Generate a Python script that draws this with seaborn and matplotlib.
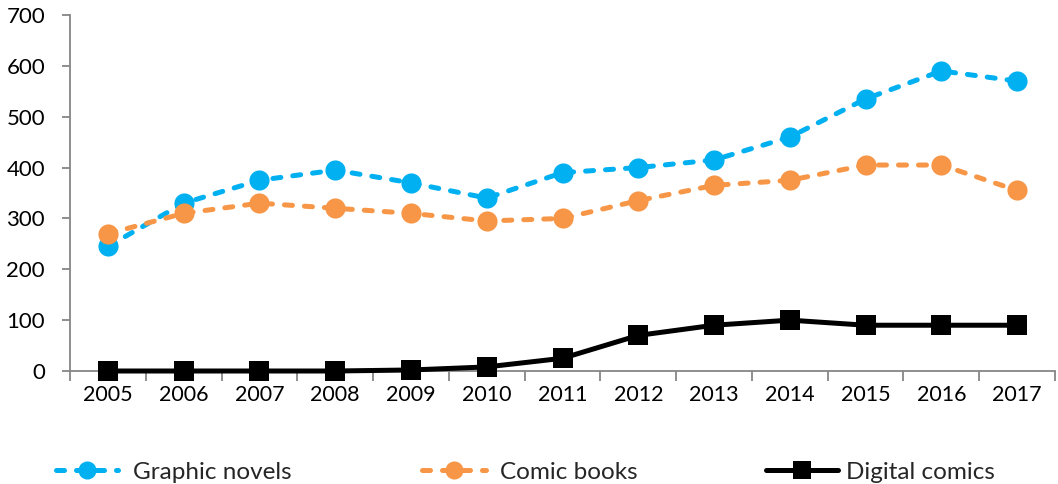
import matplotlib
matplotlib.use("Agg")
import matplotlib.pyplot as plt
from matplotlib.lines import Line2D
from matplotlib.ticker import MultipleLocator, FixedLocator
import pandas as pd
import seaborn as sns

years = [2005, 2006, 2007, 2008, 2009, 2010, 2011, 2012, 2013, 2014, 2015, 2016, 2017]
graphic_novels = [245, 330, 375, 395, 370, 340, 390, 400, 415, 460, 535, 590, 570]
comic_books = [270, 310, 330, 320, 310, 295, 300, 335, 365, 375, 405, 405, 355]
digital_comics = [0, 0, 0, 0, 2, 8, 25, 70, 90, 100, 90, 90, 90]

series_names = ["Graphic novels", "Comic books", "Digital comics"]
colors = {"Graphic novels": "#00B0F0", "Comic books": "#F79646", "Digital comics": "#000000"}
markers = {"Graphic novels": "o", "Comic books": "o", "Digital comics": "s"}
dashes = {"Graphic novels": (1.6, 2.4), "Comic books": (1.6, 2.4), "Digital comics": ""}

df = pd.concat([
    pd.DataFrame({"year": years, "value": vals, "series": name})
    for name, vals in zip(series_names, [graphic_novels, comic_books, digital_comics])
], ignore_index=True)

sns.set_style("white")
plt.rcParams["font.family"] = ["Lato", "DejaVu Sans"]

W, H = 1058, 484
fig = plt.figure(figsize=(W / 100, H / 100), dpi=100)
ax = fig.add_axes([70 / W, (H - 371) / H, (1055 - 70) / W, (371 - 15) / H])

sns.lineplot(data=df, x="year", y="value", hue="series", style="series",
             palette=colors, markers=markers, dashes=dashes, hue_order=series_names,
             style_order=series_names, markersize=14.5, linewidth=3.6,
             markeredgewidth=0, legend=False, ax=ax)
for line in ax.get_lines():
    line.set_dash_capstyle("round")
    line.set_solid_capstyle("round")
    line.set_solid_joinstyle("round")
    line.set_clip_on(False)
    line.set_zorder(5)

grey = "#868686"
ax.set_xlim(2004.5, 2017.5)
ax.set_ylim(0, 700)
ax.yaxis.set_major_locator(MultipleLocator(100))
ax.xaxis.set_major_locator(FixedLocator(years))
ax.xaxis.set_minor_locator(FixedLocator([y + 0.5 for y in [2004] + years]))
ax.set_xlabel("")
ax.set_ylabel("")
for side in ["top", "right"]:
    ax.spines[side].set_visible(False)
for side in ["left", "bottom"]:
    ax.spines[side].set_color(grey)
    ax.spines[side].set_linewidth(1.3)
ax.tick_params(axis="y", which="major", left=True, length=6, width=1.3, color=grey,
               labelsize=16, labelcolor="black", pad=12)
ax.tick_params(axis="x", which="major", bottom=True, length=0, labelsize=15.5,
               labelcolor="black", pad=10)
ax.tick_params(axis="x", which="minor", bottom=True, length=7, width=1.3, color=grey)

# one legend per entry so each sits at its own place along the bottom
legend_x = [56, 422, 766]
handle_len = [2.55, 2.63, 2.96]
text_pad = [0.62, 0.58, 0.33]
for name, x0, hl, tp in zip(series_names, legend_x, handle_len, text_pad):
    h = Line2D([], [], color=colors[name], marker=markers[name], markersize=13,
               markeredgewidth=0, linewidth=3.6,
               linestyle=(0, dashes[name]) if dashes[name] else "-",
               dash_capstyle="round", solid_capstyle="round")
    fig.legend([h], [name], loc="center left", bbox_to_anchor=(x0 / W, (H - 472) / H),
               frameon=False, fontsize=17.5, handlelength=hl, handletextpad=tp,
               borderpad=0, borderaxespad=0, numpoints=1)

fig.savefig("out.png", dpi=100)
